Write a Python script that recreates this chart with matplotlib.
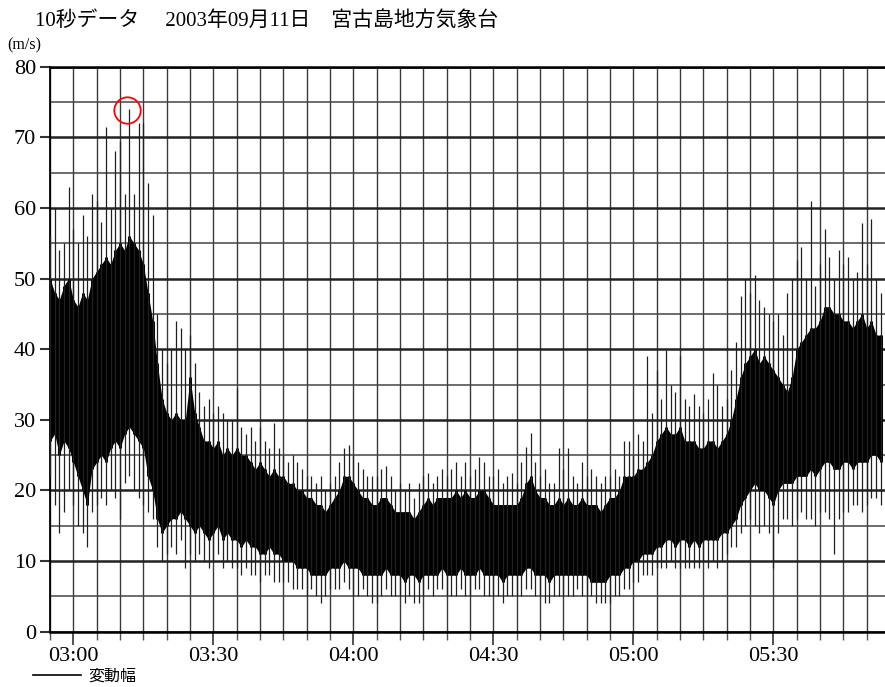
import numpy as np
import matplotlib
matplotlib.use("Agg")
import matplotlib.pyplot as plt
from matplotlib.lines import Line2D

# minutes after 03:00, one value per minute (02:55 .. 05:53)
minutes = np.arange(-5, 174)

# highest 10s value in each minute (m/s)
peak_hi = [56, 60, 54, 55, 63, 57, 55, 59, 56, 62,
           61, 58, 71.5, 60, 68, 69.5, 62, 74, 62, 72,
           72, 63.5, 59, 45, 40, 38, 40, 44, 43, 40,
           42, 38, 34, 32, 33, 31, 32, 31, 30, 30,
           34.5, 29, 28, 29, 27, 29, 27, 26, 29.5, 26,
           25, 24, 25, 24, 23, 22, 22, 21, 22, 20,
           21, 22, 24, 26, 26.5, 25, 24, 23, 22, 22,
           22, 23, 23.5, 22, 20, 21, 20, 21, 19, 21,
           22, 22.5, 21, 22, 23, 22, 23, 24, 22, 24,
           22, 23, 24.8, 24, 22, 22, 23, 21, 22, 22.5,
           21, 24, 26.2, 28.2, 24, 22, 23, 21, 21, 26,
           23, 26, 22, 21, 24, 22, 23, 22, 21, 22,
           22, 23, 22, 27, 27, 25, 28, 27, 39, 31,
           37, 33, 39.9, 35, 34, 39, 33, 32, 33.7, 32,
           31, 33, 36.6, 35, 32, 33, 37, 41, 47.5, 50,
           48, 50.5, 47, 46, 45, 44, 45, 42, 48, 50,
           52.6, 54.5, 50, 61, 49, 52, 57, 53, 50, 54,
           52, 53, 50, 51, 57.8, 52, 58.5, 50, 48]

# upper edge of the dense band
core_hi = [50, 48, 47, 49, 50, 47, 46, 48, 47, 50,
           51, 52, 53, 52, 54, 55, 54, 56, 55, 54,
           52, 48, 44, 38, 33, 31, 30, 31, 30, 30,
           36, 31, 29, 27, 27, 26, 27, 25, 26, 25,
           26, 25, 25, 24, 23, 24, 23, 22, 23, 22,
           22, 21, 21, 20, 20, 19, 19, 18, 18, 17,
           18, 19, 20, 22, 22, 21, 20, 19, 19, 18,
           18, 19, 19, 18, 17, 17, 17, 17, 16, 17,
           18, 19, 18, 19, 19, 19, 19, 20, 19, 20,
           19, 19, 20, 20, 19, 18, 18, 18, 18, 18,
           18, 19, 21, 22, 20, 19, 19, 18, 18, 19,
           18, 19, 18, 18, 19, 18, 18, 18, 17, 18,
           19, 19, 20, 22, 22, 22, 23, 23, 24, 25,
           27, 28, 29, 28, 28, 29, 27, 27, 27, 26,
           26, 27, 27, 26, 27, 28, 30, 33, 36, 38,
           39, 40, 38, 39, 38, 37, 36, 35, 34, 36,
           40, 41, 42, 43, 43, 44, 46, 46, 45, 45,
           44, 44, 43, 44, 45, 43, 44, 42, 42]

# lower edge of the dense band
core_lo = [27, 28, 25, 27, 26, 24, 22, 20, 18, 23,
           24, 25, 24, 26, 27, 26, 28, 29, 28, 27,
           26, 22, 20, 16, 14, 15, 16, 16, 17, 16,
           15, 14, 15, 14, 13, 14, 15, 13, 14, 13,
           13, 12, 13, 12, 12, 11, 11, 12, 11, 11,
           10, 10, 10, 9, 9, 9, 8, 8, 8, 8,
           9, 9, 9, 10, 9, 9, 9, 8, 8, 8,
           8, 8, 9, 8, 8, 8, 7, 8, 8, 7,
           8, 8, 8, 8, 9, 8, 8, 8, 9, 8,
           8, 8, 9, 8, 8, 8, 8, 7, 8, 8,
           8, 8, 9, 9, 8, 8, 8, 7, 8, 8,
           8, 8, 8, 8, 8, 8, 7, 7, 7, 7,
           8, 8, 8, 9, 9, 10, 10, 11, 11, 11,
           12, 12, 13, 13, 12, 13, 13, 12, 13, 12,
           13, 13, 13, 13, 14, 14, 15, 16, 18, 19,
           20, 21, 20, 20, 19, 18, 20, 21, 21, 21,
           22, 22, 22, 23, 22, 23, 24, 24, 23, 23,
           24, 24, 23, 24, 24, 24, 25, 25, 24]

# lowest 10s value in each minute
peak_lo = [22, 18, 14, 17, 20, 18, 15, 14, 12, 17,
           18, 19, 18, 20, 19, 16, 21, 22, 20, 19,
           18, 17, 16, 12, 10, 11, 12, 11, 13, 9,
           11, 10, 11, 10, 9, 10, 11, 9, 10, 9,
           9, 8, 9, 8, 8, 7, 8, 8, 7, 7,
           7, 7, 6, 6, 6, 5, 6, 5, 4, 5,
           6, 6, 6, 7, 6, 5, 5, 6, 5, 4,
           4, 5, 6, 5, 5, 5, 4, 5, 4, 4,
           5, 6, 5, 6, 6, 5, 5, 5, 6, 5,
           5, 6, 6, 5, 5, 5, 5, 4, 5, 5,
           5, 5, 6, 6, 5, 5, 4, 4, 5, 5,
           5, 5, 5, 6, 5, 5, 5, 4, 4, 4,
           4, 5, 5, 6, 6, 7, 7, 8, 8, 8,
           9, 9, 9, 10, 9, 9, 9, 9, 9, 9,
           10, 9, 10, 9, 10, 11, 12, 12, 14, 15,
           16, 15, 14, 15, 14, 9, 14, 16, 16, 15,
           16, 17, 16, 16, 15, 17, 17, 16, 11, 16,
           17, 17, 18, 18, 17, 18, 19, 19, 18]

time_ticks = [0, 30, 60, 90, 120, 150]
time_labels = ["03:00", "03:30", "04:00", "04:30", "05:00", "05:30"]
speed_ticks = [0, 10, 20, 30, 40, 50, 60, 70, 80]

title = "10秒データ\u3000 2003年09月11日\u3000宮古島地方気象台"
max_mark = (11.5, 73.9)  # the circled maximum

plt.rcParams["font.family"] = ["Liberation Serif", "Noto Sans CJK JP"]

fig = plt.figure(figsize=(8.85, 6.87), dpi=100)
ax = fig.add_axes([0.0565, 0.0805, 0.9435, 0.8224])

# dense band: filled envelope plus per-minute strokes for a ragged edge
ax.fill_between(minutes, core_lo, core_hi, color="black", lw=0, zorder=3)
ax.vlines(minutes, core_lo, core_hi, color="black", lw=2.2, zorder=3)
# single 10s extremes
ax.vlines(minutes, peak_lo, peak_hi, color="#202020", lw=0.9, zorder=3)

ax.plot(*max_mark, "o", ms=19, mfc="none", mec="red", mew=1.3, zorder=5)

ax.set_xlim(-5, 173.9)
ax.set_ylim(0, 80)
ax.set_xticks(time_ticks)
ax.set_xticklabels(time_labels)
ax.set_xticks(range(-5, 175, 5), minor=True)
ax.set_yticks(speed_ticks)
ax.set_yticks(range(5, 80, 10), minor=True)

ax.set_axisbelow(True)
ax.grid(which="both", axis="x", color="#3a3a3a", lw=1.0)
ax.grid(which="major", axis="y", color="#222222", lw=1.8)
ax.grid(which="minor", axis="y", color="#444444", lw=1.1)

ax.tick_params(axis="x", which="major", length=9, width=1.2, pad=2,
               labelsize=16, color="#333333")
ax.tick_params(axis="x", which="minor", length=6, width=1.0, color="#555555")
ax.tick_params(axis="y", which="major", length=7, width=1.5, pad=3,
               labelsize=16, color="#333333")
ax.tick_params(axis="y", which="minor", length=0)

ax.spines["right"].set_visible(False)
ax.spines["top"].set_linewidth(1.8)
ax.spines["bottom"].set_linewidth(1.8)
ax.spines["left"].set_linewidth(1.3)

fig.text(0.04, 0.97, title, fontsize=15, va="center", ha="left")
fig.text(0.008, 1 - 45 / 687, "(m/s)", fontsize=11.5, va="center", ha="left")

fig.legend(handles=[Line2D([], [], color="black", lw=1.2)], labels=["変動幅"],
           loc="center left", bbox_to_anchor=(0.028, 1 - 677 / 687),
           frameon=False, handlelength=3.0, fontsize=11.5, borderpad=0,
           handletextpad=0.5)

fig.savefig("out.png", dpi=100)
